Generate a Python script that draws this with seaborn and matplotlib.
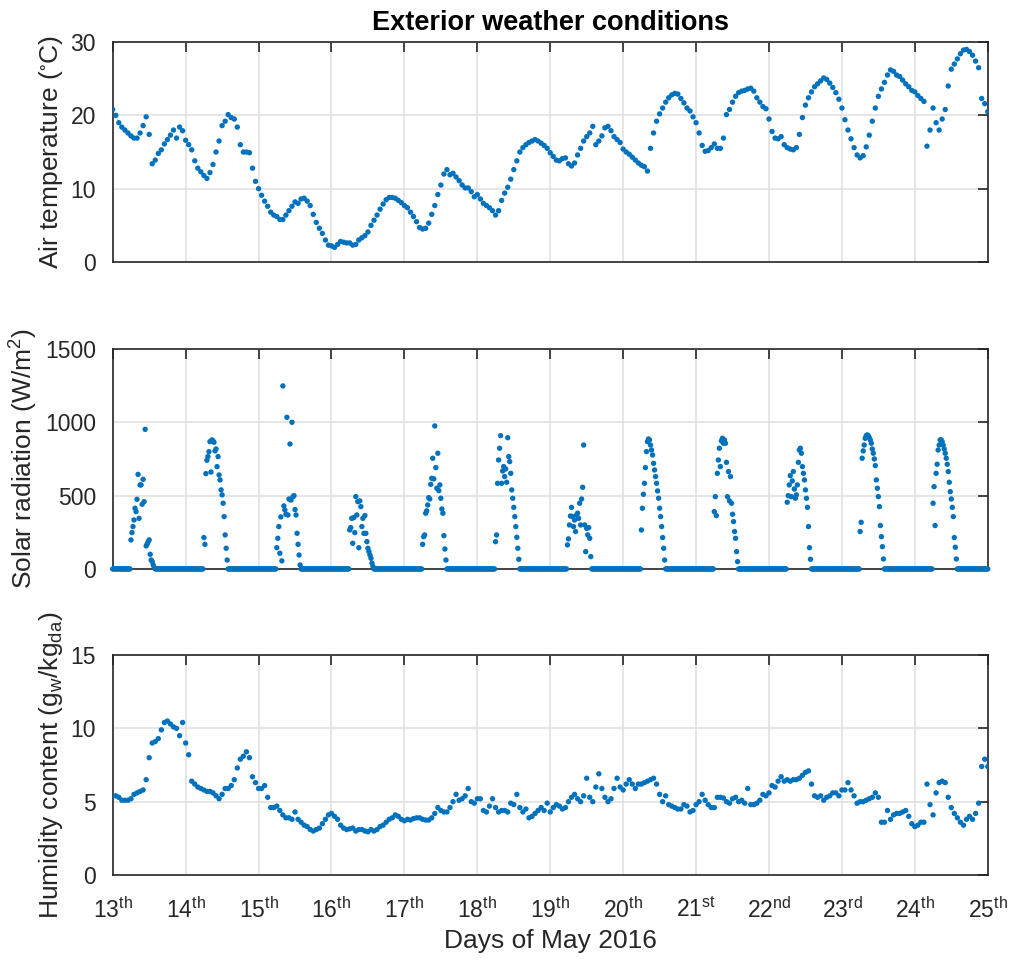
import numpy as np
import pandas as pd
import matplotlib
matplotlib.use("Agg")
import matplotlib.pyplot as plt
import seaborn as sns

# Hourly readings from 13 May 00:00 to 25 May 00:00 (one row per day)
air_temp = [
    20.8, 20.0, 19.0, 18.4, 18.0, 17.6, 17.2, 16.9, 16.9, 17.6, 18.6, 19.8, 17.4, 13.4, 13.9, 14.8, 15.3, 16.1, 16.7, 17.3, 18.0, 16.9, 18.4, 17.9,
    16.6, 16.0, 15.3, 13.8, 12.8, 12.3, 11.8, 11.4, 12.2, 13.3, 15.0, 16.5, 18.6, 19.2, 20.1, 19.7, 19.5, 18.4, 16.0, 15.0, 15.0, 14.9, 12.8, 11.0,
    10.0, 9.1, 8.3, 7.6, 6.8, 6.4, 6.2, 5.8, 5.8, 6.4, 7.0, 7.6, 8.2, 8.0, 8.6, 8.7, 8.3, 7.7, 6.5, 5.4, 4.6, 3.9, 3.0, 2.3,
    2.2, 2.0, 2.4, 2.8, 2.7, 2.6, 2.6, 2.3, 2.4, 3.0, 3.3, 3.6, 4.1, 5.0, 5.7, 6.4, 7.2, 7.9, 8.5, 8.8, 8.8, 8.7, 8.4, 8.1,
    7.7, 7.4, 6.8, 6.2, 5.5, 4.7, 4.5, 4.6, 5.3, 6.5, 7.7, 9.2, 10.5, 12.0, 12.6, 11.9, 12.1, 11.6, 11.1, 10.5, 10.1, 10.1, 9.6, 8.9,
    9.2, 8.6, 8.0, 7.7, 7.4, 7.0, 6.4, 7.0, 8.4, 9.4, 10.2, 11.3, 12.6, 13.8, 15.0, 15.6, 16.0, 16.3, 16.5, 16.7, 16.5, 16.2, 15.9, 15.5,
    14.9, 14.4, 13.9, 13.8, 14.1, 14.2, 13.4, 13.1, 13.5, 14.6, 15.5, 16.5, 17.1, 17.6, 18.5, 16.0, 16.5, 17.2, 18.3, 18.5, 17.9, 17.1, 16.7, 16.3,
    15.4, 15.0, 14.7, 14.3, 13.9, 13.5, 13.2, 13.0, 12.4, 15.5, 17.6, 19.2, 20.2, 21.0, 21.8, 22.4, 22.8, 23.0, 22.9, 22.3, 21.7, 21.0, 20.6, 19.8,
    19.0, 17.6, 15.9, 15.1, 15.2, 15.6, 16.1, 15.5, 15.5, 16.9, 20.1, 20.8, 21.8, 22.6, 23.1, 23.3, 23.4, 23.6, 23.7, 23.3, 22.4, 21.8, 21.2, 20.9,
    19.5, 17.8, 16.9, 16.8, 17.1, 16.0, 15.6, 15.4, 15.3, 15.6, 17.4, 19.7, 21.4, 22.4, 23.2, 23.9, 24.3, 24.7, 25.1, 24.9, 24.4, 23.8, 23.1, 22.2,
    21.0, 19.4, 18.0, 16.8, 15.6, 14.6, 14.2, 14.5, 15.7, 17.3, 19.2, 21.0, 22.6, 23.6, 24.5, 25.5, 26.2, 26.0, 25.5, 25.3, 24.8, 24.3, 23.9, 23.4,
    23.2, 22.7, 22.3, 21.9, 15.8, 18.0, 21.0, 19.0, 18.0, 19.5, 20.8, 24.0, 26.3, 27.0, 27.7, 28.4, 28.9, 29.0, 28.7, 28.2, 27.4, 26.5, 22.3, 21.6,
    20.5,
]

humidity = [
    5.4, 5.4, 5.3, 5.1, 5.1, 5.1, 5.2, 5.5, 5.6, 5.7, 5.8, 6.5, 8.0, 9.0, 9.1, 9.3, 9.9, 10.4, 10.5, 10.3, 10.1, 10.0, 9.5, 10.4,
    9.0, 8.2, 6.4, 6.2, 6.0, 5.9, 5.8, 5.7, 5.7, 5.6, 5.4, 5.2, 5.5, 5.9, 5.9, 6.1, 6.5, 7.3, 7.9, 8.1, 8.4, 8.0, 6.7, 6.3,
    5.9, 5.9, 6.1, 5.3, 4.6, 4.6, 4.7, 4.4, 4.1, 3.9, 3.9, 3.8, 4.3, 3.8, 3.6, 3.4, 3.3, 3.1, 3.0, 3.1, 3.2, 3.5, 3.8, 4.1,
    4.2, 4.0, 3.8, 3.4, 3.2, 3.1, 3.15, 3.2, 3.0, 3.1, 3.1, 3.0, 2.95, 3.1, 3.0, 3.1, 3.3, 3.4, 3.6, 3.8, 3.9, 4.1, 4.0, 3.8,
    3.7, 3.8, 3.75, 3.85, 3.9, 3.9, 3.8, 3.75, 3.75, 3.9, 4.2, 4.6, 4.4, 4.3, 4.3, 4.6, 5.0, 5.5, 5.1, 5.2, 5.4, 5.9, 5.0, 4.9,
    5.2, 5.2, 4.4, 4.3, 4.7, 5.2, 4.6, 4.3, 4.4, 4.4, 4.3, 4.9, 4.8, 5.5, 4.6, 4.3, 4.5, 3.9, 4.0, 4.2, 4.4, 4.6, 4.4, 4.9,
    4.3, 4.6, 4.8, 4.7, 4.5, 4.6, 5.0, 5.3, 5.5, 5.2, 5.0, 5.4, 6.6, 5.3, 5.0, 6.0, 6.9, 5.9, 5.3, 5.0, 5.2, 5.9, 6.6, 6.0,
    5.8, 6.2, 6.5, 6.2, 5.9, 6.2, 6.2, 6.3, 6.4, 6.5, 6.6, 6.2, 5.5, 5.0, 5.4, 4.8, 4.7, 4.6, 4.5, 4.5, 4.8, 4.7, 4.3, 4.4,
    4.8, 5.0, 5.5, 5.1, 4.8, 4.6, 4.6, 5.3, 5.3, 5.25, 5.0, 4.9, 5.2, 5.3, 5.0, 5.1, 4.9, 5.9, 4.8, 4.8, 4.9, 5.1, 5.5, 5.4,
    5.6, 6.1, 6.0, 6.4, 6.7, 6.4, 6.5, 6.4, 6.5, 6.5, 6.6, 6.8, 7.0, 7.1, 6.2, 5.4, 5.3, 5.4, 5.1, 5.3, 5.4, 5.6, 5.6, 5.4,
    5.8, 5.8, 6.3, 5.8, 5.4, 4.9, 5.0, 5.0, 5.1, 5.2, 5.3, 5.6, 5.3, 3.6, 3.6, 4.4, 3.8, 4.1, 4.2, 4.2, 4.3, 4.4, 4.0, 3.5,
    3.3, 3.4, 3.6, 3.6, 6.2, 4.8, 4.1, 5.6, 6.3, 6.4, 6.3, 5.3, 4.6, 4.2, 3.9, 3.6, 3.4, 3.8, 4.0, 3.8, 4.2, 4.9, 7.4, 7.9,
    7.4,
]

# Solar radiation every 20 minutes. Each day lists its daylight samples,
# starting at sample number solar_rise[d] after midnight; all others read 0.
solar_rise = [18, 18, 18, 18, 18, 18, 17, 18, 18, 18, 18, 18]
solar_13 = [198, 248, 289, 334, 414, 391, 475, 645, 345, 573, 573, 441, 611, 459, 952, 157, 170, 186, 198, 100, 61, 50, 27, 9]
solar_14 = [214, 168, 650, 741, 766, 800, 868, 661, 880, 873, 864, 805, 818, 698, 766, 641, 607, 539, 505, 448, 357, 232, 141, 61]
solar_15 = [145, 209, 289, 107, 355, 55, 1248, 430, 402, 373, 1034, 368, 477, 852, 470, 1000, 493, 500, 405, 368, 243, 168, 95, 27]
solar_16 = [266, 282, 345, 175, 350, 248, 493, 368, 459, 145, 464, 425, 289, 345, 243, 364, 243, 186, 141, 118, 95, 73, 39, 16]
solar_17 = [168, 220, 232, 380, 396, 436, 486, 477, 577, 618, 755, 614, 975, 691, 550, 789, 534, 573, 482, 409, 380, 227, 136, 61]
solar_18 = [186, 232, 584, 743, 823, 909, 584, 668, 698, 630, 682, 591, 895, 766, 732, 652, 539, 482, 420, 357, 289, 216, 141, 66]
solar_19 = [164, 205, 300, 361, 420, 357, 289, 334, 255, 368, 380, 345, 448, 300, 477, 557, 845, 300, 118, 277, 232, 282, 209, 84]
solar_20 = [266, 414, 509, 584, 691, 800, 868, 886, 880, 845, 811, 777, 720, 675, 630, 584, 532, 482, 414, 357, 289, 214, 141, 61]
solar_21 = [391, 493, 364, 652, 743, 823, 698, 873, 891, 857, 880, 857, 727, 493, 664, 464, 630, 448, 373, 323, 255, 209, 118, 50]
solar_22 = [455, 500, 573, 636, 493, 600, 664, 545, 482, 505, 573, 727, 811, 823, 789, 698, 652, 607, 539, 482, 420, 289, 145, 66]
solar_23 = [255, 318, 755, 805, 845, 891, 909, 914, 909, 896, 880, 857, 818, 789, 750, 705, 607, 550, 493, 425, 296, 220, 152, 68]
solar_24 = [448, 561, 296, 652, 714, 811, 845, 880, 880, 868, 845, 818, 789, 755, 714, 664, 591, 527, 477, 420, 357, 214, 148, 68]

days = list(range(13, 26))
day_suffix = ["th"] * 8 + ["st", "nd", "rd", "th", "th"]
day_labels = [f"{d}$^{{{s}}}$" for d, s in zip(days, day_suffix)]

# ---- assemble tables ----
hourly = pd.DataFrame({
    "day": 13 + np.arange(len(air_temp)) / 24.0,
    "temp": air_temp,
    "hum": humidity,
})

solar_days = [solar_13, solar_14, solar_15, solar_16, solar_17, solar_18,
              solar_19, solar_20, solar_21, solar_22, solar_23, solar_24]
per_day = 72
solar_vals = np.zeros(len(solar_days) * per_day + 1)
for d, (rise, vals) in enumerate(zip(solar_rise, solar_days)):
    start = d * per_day + rise
    solar_vals[start:start + len(vals)] = vals
solar_df = pd.DataFrame({
    "day": 13 + np.arange(len(solar_vals)) / per_day,
    "solar": solar_vals,
})

# ---- style ----
sns.set_style("white")
ink = "#262626"
blue = "#0072BD"
plt.rcParams["font.family"] = ["Liberation Sans", "DejaVu Sans"]
plt.rcParams["mathtext.fontset"] = "custom"
plt.rcParams["mathtext.rm"] = "Liberation Sans"
plt.rcParams["mathtext.it"] = "Liberation Sans:italic"
plt.rcParams["mathtext.bf"] = "Liberation Sans:bold"
plt.rcParams["mathtext.default"] = "regular"

fig = plt.figure(figsize=(10.11, 9.64), dpi=100)
left, width, height = 0.1115, 0.8655, 0.2282
ax_t = fig.add_axes([left, 0.7282, width, height])
ax_s = fig.add_axes([left, 0.4098, width, height])
ax_h = fig.add_axes([left, 0.0923, width, height])

dot = dict(color=blue, s=15, linewidth=0, edgecolor="none", legend=False)
sns.scatterplot(data=hourly, x="day", y="temp", ax=ax_t, zorder=3, **dot)
sns.scatterplot(data=solar_df, x="day", y="solar", ax=ax_s, zorder=3,
                clip_on=False, **dot)
sns.scatterplot(data=hourly, x="day", y="hum", ax=ax_h, zorder=3, **dot)

panels = [
    (ax_t, (0, 30), [0, 10, 20, 30], "Air temperature ($^{\\circ}$C)"),
    (ax_s, (0, 1500), [0, 500, 1000, 1500], "Solar radiation (W/m$^{2}$)"),
    (ax_h, (0, 15), [0, 5, 10, 15], "Humidity content (g$_{w}$/kg$_{da}$)"),
]
for ax, ylim, yticks, ylabel in panels:
    ax.set_xlim(13, 25)
    ax.set_ylim(*ylim)
    ax.set_yticks(yticks)
    ax.set_xticks(days)
    ax.set_xticklabels(day_labels)
    ax.grid(True, color="#dfdfdf", linewidth=1.1)
    ax.set_axisbelow(True)
    for sp in ax.spines.values():
        sp.set_color(ink)
        sp.set_linewidth(1.2)
        sp.set_zorder(2.5)
    ax.tick_params(direction="in", length=7, width=1.2, top=True, right=True,
                   labelsize=16.5, colors=ink)
    ax.tick_params(axis="y", pad=12)
    ax.tick_params(axis="x", pad=16)
    ax.set_ylabel(ylabel, fontsize=19, color=ink)
    ax.set_xlabel("")

ax_t.tick_params(labelbottom=False)
ax_s.tick_params(labelbottom=False)
ax_h.set_xlabel("Days of May 2016", fontsize=19, color=ink, labelpad=4)
ax_t.set_title("Exterior weather conditions", fontsize=19.5,
               fontweight="bold", color="black", pad=9)

fig.savefig("out.png", dpi=100)
